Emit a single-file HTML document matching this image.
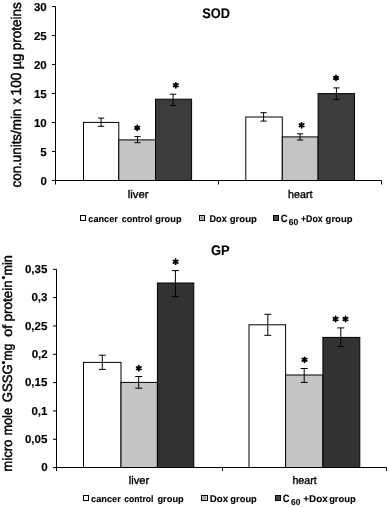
<!DOCTYPE html>
<html><head><meta charset="utf-8"><style>
html,body{margin:0;padding:0;background:#fff;}
svg{display:block;font-family:"Liberation Sans", sans-serif;filter:grayscale(1);text-rendering:geometricPrecision;}
</style></head><body>
<svg width="389" height="507" viewBox="0 0 389 507">
<rect width="389" height="507" fill="#fff"/>
<text x="202.27" y="17.50" font-size="14" font-weight="bold" stroke="#000" stroke-width="0.1" textLength="27.67" lengthAdjust="spacingAndGlyphs">SOD</text>
<text x="127.78" y="198.20" font-size="11" font-weight="normal" stroke="#000" stroke-width="0.35" textLength="20.84" lengthAdjust="spacingAndGlyphs">liver</text>
<text x="288.11" y="198.30" font-size="11" font-weight="normal" stroke="#000" stroke-width="0.35" textLength="24.42" lengthAdjust="spacingAndGlyphs">heart</text>
<text x="211.03" y="254.70" font-size="13.8" font-weight="bold" stroke="#000" stroke-width="0.1" textLength="18.68" lengthAdjust="spacingAndGlyphs">GP</text>
<text x="128.79" y="484.20" font-size="11" font-weight="normal" stroke="#000" stroke-width="0.35" textLength="20.43" lengthAdjust="spacingAndGlyphs">liver</text>
<text x="292.42" y="484.30" font-size="11" font-weight="normal" stroke="#000" stroke-width="0.35" textLength="24.32" lengthAdjust="spacingAndGlyphs">heart</text>
<text x="88.35" y="221.50" font-size="9.2" font-weight="bold" stroke="#000" stroke-width="0.1" textLength="29.49" lengthAdjust="spacingAndGlyphs">cancer</text>
<text x="121.75" y="221.60" font-size="9.2" font-weight="bold" stroke="#000" stroke-width="0.1" textLength="30.57" lengthAdjust="spacingAndGlyphs">control</text>
<text x="155.35" y="221.60" font-size="9.2" font-weight="bold" stroke="#000" stroke-width="0.1" textLength="26.24" lengthAdjust="spacingAndGlyphs">group</text>
<text x="209.54" y="221.60" font-size="9.8" font-weight="bold" stroke="#000" stroke-width="0.1" textLength="17.18" lengthAdjust="spacingAndGlyphs">Dox</text>
<text x="229.74" y="221.60" font-size="9.2" font-weight="bold" stroke="#000" stroke-width="0.1" textLength="27.26" lengthAdjust="spacingAndGlyphs">group</text>
<text x="280.68" y="221.60" font-size="10.5" font-weight="bold" stroke="#000" stroke-width="0.1" textLength="6.83" lengthAdjust="spacingAndGlyphs">C</text>
<text x="288.75" y="225.40" font-size="8.5" font-weight="bold" stroke="#000" stroke-width="0.1" textLength="9.47" lengthAdjust="spacingAndGlyphs">60</text>
<text x="300.98" y="221.60" font-size="9.8" font-weight="bold" stroke="#000" stroke-width="0.1" textLength="21.61" lengthAdjust="spacingAndGlyphs">+Dox</text>
<text x="325.64" y="221.60" font-size="9.2" font-weight="bold" stroke="#000" stroke-width="0.1" textLength="26.85" lengthAdjust="spacingAndGlyphs">group</text>
<text x="91.05" y="501.80" font-size="9.2" font-weight="bold" stroke="#000" stroke-width="0.1" textLength="29.79" lengthAdjust="spacingAndGlyphs">cancer</text>
<text x="124.27" y="501.80" font-size="9.2" font-weight="bold" stroke="#000" stroke-width="0.1" textLength="29.24" lengthAdjust="spacingAndGlyphs">control</text>
<text x="157.45" y="501.80" font-size="9.2" font-weight="bold" stroke="#000" stroke-width="0.1" textLength="26.34" lengthAdjust="spacingAndGlyphs">group</text>
<text x="209.80" y="501.90" font-size="9.8" font-weight="bold" stroke="#000" stroke-width="0.1" textLength="18.41" lengthAdjust="spacingAndGlyphs">Dox</text>
<text x="230.35" y="501.90" font-size="9.2" font-weight="bold" stroke="#000" stroke-width="0.1" textLength="26.44" lengthAdjust="spacingAndGlyphs">group</text>
<text x="282.78" y="501.70" font-size="10.5" font-weight="bold" stroke="#000" stroke-width="0.1" textLength="6.73" lengthAdjust="spacingAndGlyphs">C</text>
<text x="291.06" y="505.00" font-size="8.5" font-weight="bold" stroke="#000" stroke-width="0.1" textLength="9.26" lengthAdjust="spacingAndGlyphs">60</text>
<text x="303.25" y="501.90" font-size="9.8" font-weight="bold" stroke="#000" stroke-width="0.1" textLength="24.44" lengthAdjust="spacingAndGlyphs">+Dox</text>
<text x="329.15" y="501.90" font-size="9.2" font-weight="bold" stroke="#000" stroke-width="0.1" textLength="26.54" lengthAdjust="spacingAndGlyphs">group</text>
<text x="33.90" y="10.60" font-size="11.5" font-weight="bold" stroke="#000" stroke-width="0.15">30</text>
<text x="33.90" y="39.60" font-size="11.5" font-weight="bold" stroke="#000" stroke-width="0.15">25</text>
<text x="33.90" y="68.60" font-size="11.5" font-weight="bold" stroke="#000" stroke-width="0.15">20</text>
<text x="33.90" y="97.60" font-size="11.5" font-weight="bold" stroke="#000" stroke-width="0.15">15</text>
<text x="33.90" y="126.60" font-size="11.5" font-weight="bold" stroke="#000" stroke-width="0.15">10</text>
<text x="40.15" y="155.60" font-size="11.5" font-weight="bold" stroke="#000" stroke-width="0.15">5</text>
<text x="40.40" y="184.60" font-size="11.5" font-weight="bold" stroke="#000" stroke-width="0.15">0</text>
<text x="24.95" y="272.90" font-size="11.5" font-weight="bold" stroke="#000" stroke-width="0.15">0,35</text>
<text x="31.45" y="301.23" font-size="11.5" font-weight="bold" stroke="#000" stroke-width="0.15">0,3</text>
<text x="24.95" y="329.56" font-size="11.5" font-weight="bold" stroke="#000" stroke-width="0.15">0,25</text>
<text x="31.70" y="357.89" font-size="11.5" font-weight="bold" stroke="#000" stroke-width="0.15">0,2</text>
<text x="24.95" y="386.21" font-size="11.5" font-weight="bold" stroke="#000" stroke-width="0.15">0,15</text>
<text x="31.45" y="414.54" font-size="11.5" font-weight="bold" stroke="#000" stroke-width="0.15">0,1</text>
<text x="24.95" y="442.87" font-size="11.5" font-weight="bold" stroke="#000" stroke-width="0.15">0,05</text>
<text x="41.20" y="471.20" font-size="11.5" font-weight="bold" stroke="#000" stroke-width="0.15">0</text>
<text transform="translate(21.30,187.44) rotate(-90)" font-size="14" font-weight="normal" stroke="#000" stroke-width="0.45" textLength="78.74" lengthAdjust="spacingAndGlyphs">con.units/min</text>
<text transform="translate(21.30,104.29) rotate(-90)" font-size="14" font-weight="normal" stroke="#000" stroke-width="0.45" textLength="5.97" lengthAdjust="spacingAndGlyphs">x</text>
<text transform="translate(21.30,95.40) rotate(-90)" font-size="14.6" font-weight="normal" stroke="#000" stroke-width="0.45" textLength="22.84" lengthAdjust="spacingAndGlyphs">100</text>
<text transform="translate(21.30,69.14) rotate(-90)" font-size="14" font-weight="normal" stroke="#000" stroke-width="0.45" textLength="15.75" lengthAdjust="spacingAndGlyphs">µg</text>
<text transform="translate(21.30,50.22) rotate(-90)" font-size="14" font-weight="normal" stroke="#000" stroke-width="0.45" textLength="48.02" lengthAdjust="spacingAndGlyphs">proteins</text>
<text transform="translate(12.30,471.73) rotate(-90)" font-size="13.5" font-weight="normal" stroke="#000" stroke-width="0.45" textLength="32.17" lengthAdjust="spacingAndGlyphs">micro</text>
<text transform="translate(12.30,435.50) rotate(-90)" font-size="13.5" font-weight="normal" stroke="#000" stroke-width="0.45" textLength="27.45" lengthAdjust="spacingAndGlyphs">mole</text>
<text transform="translate(12.30,402.29) rotate(-90)" font-size="13.5" font-weight="normal" stroke="#000" stroke-width="0.45" textLength="37.93" lengthAdjust="spacingAndGlyphs">GSSG</text>
<text transform="translate(12.30,360.47) rotate(-90)" font-size="13.5" font-weight="normal" stroke="#000" stroke-width="0.45" textLength="16.84" lengthAdjust="spacingAndGlyphs">mg</text>
<text transform="translate(12.30,336.77) rotate(-90)" font-size="13.5" font-weight="normal" stroke="#000" stroke-width="0.45" textLength="12.02" lengthAdjust="spacingAndGlyphs">of</text>
<text transform="translate(12.30,321.40) rotate(-90)" font-size="13.5" font-weight="normal" stroke="#000" stroke-width="0.45" textLength="41.13" lengthAdjust="spacingAndGlyphs">protein</text>
<text transform="translate(12.30,275.40) rotate(-90)" font-size="13.5" font-weight="normal" stroke="#000" stroke-width="0.45" textLength="20.28" lengthAdjust="spacingAndGlyphs">min</text>
<line x1="55.50" y1="6.50" x2="55.50" y2="184.50" stroke="#000" stroke-width="1"/>
<line x1="52.00" y1="6.50" x2="55.50" y2="6.50" stroke="#000" stroke-width="1"/>
<line x1="52.00" y1="35.50" x2="55.50" y2="35.50" stroke="#000" stroke-width="1"/>
<line x1="52.00" y1="64.50" x2="55.50" y2="64.50" stroke="#000" stroke-width="1"/>
<line x1="52.00" y1="93.50" x2="55.50" y2="93.50" stroke="#000" stroke-width="1"/>
<line x1="52.00" y1="122.50" x2="55.50" y2="122.50" stroke="#000" stroke-width="1"/>
<line x1="52.00" y1="151.50" x2="55.50" y2="151.50" stroke="#000" stroke-width="1"/>
<line x1="52.00" y1="180.50" x2="55.50" y2="180.50" stroke="#000" stroke-width="1"/>
<line x1="55.50" y1="180.50" x2="381.50" y2="180.50" stroke="#000" stroke-width="1"/>
<line x1="218.50" y1="180.50" x2="218.50" y2="184.50" stroke="#000" stroke-width="1"/>
<line x1="381.50" y1="180.50" x2="381.50" y2="184.50" stroke="#000" stroke-width="1"/>
<rect x="83.50" y="122.40" width="35.30" height="58.10" fill="#fff" stroke="#000" stroke-width="1"/>
<rect x="118.80" y="139.90" width="36.70" height="40.60" fill="#c4c4c4" stroke="#000" stroke-width="1"/>
<rect x="155.50" y="99.20" width="36.10" height="81.30" fill="#3c3c3c" stroke="#000" stroke-width="1"/>
<rect x="245.80" y="117.00" width="36.50" height="63.50" fill="#fff" stroke="#000" stroke-width="1"/>
<rect x="282.30" y="136.90" width="35.80" height="43.60" fill="#c4c4c4" stroke="#000" stroke-width="1"/>
<rect x="318.10" y="93.60" width="36.40" height="86.90" fill="#3c3c3c" stroke="#000" stroke-width="1"/>
<line x1="101.10" y1="118.10" x2="101.10" y2="126.30" stroke="#000" stroke-width="1"/>
<line x1="98.00" y1="118.10" x2="104.20" y2="118.10" stroke="#000" stroke-width="1"/>
<line x1="98.00" y1="126.30" x2="104.20" y2="126.30" stroke="#000" stroke-width="1"/>
<line x1="137.50" y1="136.60" x2="137.50" y2="142.70" stroke="#000" stroke-width="1"/>
<line x1="134.40" y1="136.60" x2="140.60" y2="136.60" stroke="#000" stroke-width="1"/>
<line x1="134.40" y1="142.70" x2="140.60" y2="142.70" stroke="#000" stroke-width="1"/>
<line x1="173.10" y1="94.20" x2="173.10" y2="105.40" stroke="#000" stroke-width="1"/>
<line x1="170.00" y1="94.20" x2="176.20" y2="94.20" stroke="#000" stroke-width="1"/>
<line x1="170.00" y1="105.40" x2="176.20" y2="105.40" stroke="#000" stroke-width="1"/>
<line x1="263.60" y1="112.70" x2="263.60" y2="121.10" stroke="#000" stroke-width="1"/>
<line x1="260.50" y1="112.70" x2="266.70" y2="112.70" stroke="#000" stroke-width="1"/>
<line x1="260.50" y1="121.10" x2="266.70" y2="121.10" stroke="#000" stroke-width="1"/>
<line x1="300.10" y1="133.80" x2="300.10" y2="140.00" stroke="#000" stroke-width="1"/>
<line x1="297.00" y1="133.80" x2="303.20" y2="133.80" stroke="#000" stroke-width="1"/>
<line x1="297.00" y1="140.00" x2="303.20" y2="140.00" stroke="#000" stroke-width="1"/>
<line x1="336.40" y1="87.90" x2="336.40" y2="99.50" stroke="#000" stroke-width="1"/>
<line x1="333.30" y1="87.90" x2="339.50" y2="87.90" stroke="#000" stroke-width="1"/>
<line x1="333.30" y1="99.50" x2="339.50" y2="99.50" stroke="#000" stroke-width="1"/>
<path d="M137.20,125.40L137.20,130.40M139.37,126.65L135.03,129.15M139.37,129.15L135.03,126.65" stroke="#000" stroke-width="1.8" stroke-linecap="round"/>
<path d="M175.80,82.80L175.80,87.80M177.97,84.05L173.63,86.55M177.97,86.55L173.63,84.05" stroke="#000" stroke-width="1.8" stroke-linecap="round"/>
<path d="M301.60,122.80L301.60,127.80M303.77,124.05L299.43,126.55M303.77,126.55L299.43,124.05" stroke="#000" stroke-width="1.8" stroke-linecap="round"/>
<path d="M336.00,75.40L336.00,80.40M338.17,76.65L333.83,79.15M338.17,79.15L333.83,76.65" stroke="#000" stroke-width="1.8" stroke-linecap="round"/>
<line x1="56.50" y1="269.30" x2="56.50" y2="471.00" stroke="#000" stroke-width="1"/>
<line x1="53.00" y1="269.30" x2="56.50" y2="269.30" stroke="#000" stroke-width="1"/>
<line x1="53.00" y1="297.63" x2="56.50" y2="297.63" stroke="#000" stroke-width="1"/>
<line x1="53.00" y1="325.96" x2="56.50" y2="325.96" stroke="#000" stroke-width="1"/>
<line x1="53.00" y1="354.29" x2="56.50" y2="354.29" stroke="#000" stroke-width="1"/>
<line x1="53.00" y1="382.61" x2="56.50" y2="382.61" stroke="#000" stroke-width="1"/>
<line x1="53.00" y1="410.94" x2="56.50" y2="410.94" stroke="#000" stroke-width="1"/>
<line x1="53.00" y1="439.27" x2="56.50" y2="439.27" stroke="#000" stroke-width="1"/>
<line x1="53.00" y1="467.60" x2="56.50" y2="467.60" stroke="#000" stroke-width="1"/>
<line x1="56.50" y1="467.50" x2="386.50" y2="467.50" stroke="#000" stroke-width="1"/>
<line x1="222.50" y1="467.50" x2="222.50" y2="471.00" stroke="#000" stroke-width="1"/>
<line x1="386.50" y1="467.50" x2="386.50" y2="471.00" stroke="#000" stroke-width="1"/>
<rect x="83.50" y="362.40" width="37.50" height="105.10" fill="#fff" stroke="#000" stroke-width="1"/>
<rect x="121.00" y="382.40" width="36.40" height="85.10" fill="#c4c4c4" stroke="#000" stroke-width="1"/>
<rect x="157.40" y="283.00" width="36.40" height="184.50" fill="#323232" stroke="#000" stroke-width="1"/>
<rect x="249.00" y="324.80" width="36.60" height="142.70" fill="#fff" stroke="#000" stroke-width="1"/>
<rect x="285.60" y="375.00" width="37.30" height="92.50" fill="#c4c4c4" stroke="#000" stroke-width="1"/>
<rect x="322.90" y="337.40" width="36.90" height="130.10" fill="#323232" stroke="#000" stroke-width="1"/>
<line x1="102.30" y1="355.20" x2="102.30" y2="369.40" stroke="#000" stroke-width="1"/>
<line x1="98.80" y1="355.20" x2="105.80" y2="355.20" stroke="#000" stroke-width="1"/>
<line x1="98.80" y1="369.40" x2="105.80" y2="369.40" stroke="#000" stroke-width="1"/>
<line x1="138.70" y1="376.50" x2="138.70" y2="388.20" stroke="#000" stroke-width="1"/>
<line x1="135.20" y1="376.50" x2="142.20" y2="376.50" stroke="#000" stroke-width="1"/>
<line x1="135.20" y1="388.20" x2="142.20" y2="388.20" stroke="#000" stroke-width="1"/>
<line x1="175.40" y1="270.60" x2="175.40" y2="296.60" stroke="#000" stroke-width="1"/>
<line x1="171.90" y1="270.60" x2="178.90" y2="270.60" stroke="#000" stroke-width="1"/>
<line x1="171.90" y1="296.60" x2="178.90" y2="296.60" stroke="#000" stroke-width="1"/>
<line x1="267.80" y1="314.30" x2="267.80" y2="335.30" stroke="#000" stroke-width="1"/>
<line x1="264.30" y1="314.30" x2="271.30" y2="314.30" stroke="#000" stroke-width="1"/>
<line x1="264.30" y1="335.30" x2="271.30" y2="335.30" stroke="#000" stroke-width="1"/>
<line x1="304.20" y1="368.50" x2="304.20" y2="382.40" stroke="#000" stroke-width="1"/>
<line x1="300.70" y1="368.50" x2="307.70" y2="368.50" stroke="#000" stroke-width="1"/>
<line x1="300.70" y1="382.40" x2="307.70" y2="382.40" stroke="#000" stroke-width="1"/>
<line x1="340.80" y1="327.90" x2="340.80" y2="346.40" stroke="#000" stroke-width="1"/>
<line x1="337.30" y1="327.90" x2="344.30" y2="327.90" stroke="#000" stroke-width="1"/>
<line x1="337.30" y1="346.40" x2="344.30" y2="346.40" stroke="#000" stroke-width="1"/>
<path d="M138.80,365.70L138.80,370.70M140.97,366.95L136.63,369.45M140.97,369.45L136.63,366.95" stroke="#000" stroke-width="1.8" stroke-linecap="round"/>
<path d="M175.60,259.20L175.60,264.20M177.77,260.45L173.43,262.95M177.77,262.95L173.43,260.45" stroke="#000" stroke-width="1.8" stroke-linecap="round"/>
<path d="M304.50,357.30L304.50,362.30M306.67,358.55L302.33,361.05M306.67,361.05L302.33,358.55" stroke="#000" stroke-width="1.8" stroke-linecap="round"/>
<path d="M335.60,316.50L335.60,321.50M337.77,317.75L333.43,320.25M337.77,320.25L333.43,317.75" stroke="#000" stroke-width="1.8" stroke-linecap="round"/>
<path d="M345.50,316.50L345.50,321.50M347.67,317.75L343.33,320.25M347.67,320.25L343.33,317.75" stroke="#000" stroke-width="1.8" stroke-linecap="round"/>
<circle cx="3.5" cy="362.6" r="1.6" fill="#000"/>
<circle cx="3.5" cy="277.6" r="1.6" fill="#000"/>
<rect x="80.5" y="215.5" width="5" height="5" fill="#fff" stroke="#000" stroke-width="1" shape-rendering="crispEdges"/>
<rect x="199.5" y="215.5" width="5" height="5" fill="#d0d0d0" stroke="#000" stroke-width="1" shape-rendering="crispEdges"/>
<path d="M202.0,216.0V220.0M200.0,218.0H204.0" stroke="#909090" stroke-width="1" fill="none"/>
<rect x="273.5" y="215.5" width="5" height="5" fill="#4a4a4a" stroke="#000" stroke-width="1" shape-rendering="crispEdges"/>
<rect x="83.5" y="495.5" width="5" height="5" fill="#fff" stroke="#000" stroke-width="1" shape-rendering="crispEdges"/>
<rect x="201.5" y="495.5" width="5.5" height="5" fill="#d0d0d0" stroke="#000" stroke-width="1" shape-rendering="crispEdges"/>
<path d="M204.25,496.0V500.0M202.0,498.0H206.5" stroke="#909090" stroke-width="1" fill="none"/>
<rect x="275.5" y="495.5" width="5" height="5" fill="#444" stroke="#000" stroke-width="1" shape-rendering="crispEdges"/>
</svg>
</body></html>
